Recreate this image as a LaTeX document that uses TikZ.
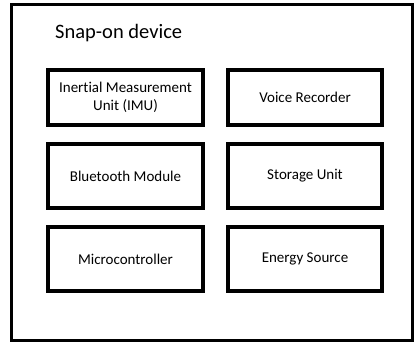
\documentclass[tikz,border=0pt]{standalone}
\usepackage{fontspec}
\setmainfont{Carlito}[RawFeature={-liga;-clig;-dlig}]
\begin{document}
\begin{tikzpicture}[x=1pt,y=-1pt,
  outer/.style={draw=black,line width=3pt},
  part/.style={draw=black,line width=3.3pt,align=center,font=\fontsize{15}{18}\selectfont,inner sep=0pt}]
\useasboundingbox (0,0) rectangle (414,344);
\draw[outer] (11.5,4.5) rectangle (412.5,340.5);
\coordinate (dev) at (11.5,4.5);
\node[anchor=west,font=\fontsize{20.5}{24}\selectfont,inner sep=0pt] (title) at (55,33) {Snap-on device};
\node[part,minimum width=155pt,minimum height=55pt] (imu) at (125.5,97.5) {Inertial Measurement\\Unit (IMU)};
\node[part,minimum width=154pt,minimum height=55pt] (voice) at (305,97.5) {Voice Recorder};
\node[part,minimum width=155pt,minimum height=64pt] (bt) at (125.5,176) {Bluetooth Module};
\node[part,minimum width=154pt,minimum height=64pt] (store) at (305,176) {Storage Unit};
\node[part,minimum width=155pt,minimum height=64pt] (mcu) at (125.5,259) {Microcontroller};
\node[part,minimum width=154pt,minimum height=64pt] (energy) at (305,259) {Energy Source};
\end{tikzpicture}
\end{document}
